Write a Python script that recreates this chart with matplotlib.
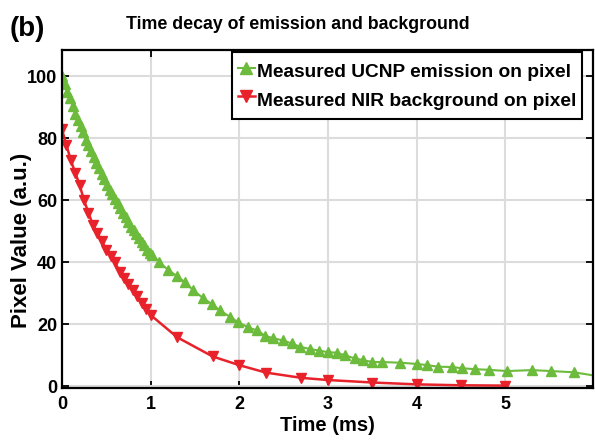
import matplotlib
matplotlib.use("Agg")
import matplotlib.pyplot as plt

# time (ms) and pixel value (a.u.)
ucnp_t = [0.00, 0.03, 0.06, 0.09, 0.12, 0.15, 0.18, 0.21, 0.24, 0.27,
          0.30, 0.33, 0.36, 0.39, 0.42, 0.45, 0.48, 0.51, 0.54, 0.57,
          0.60, 0.63, 0.66, 0.69, 0.72, 0.75, 0.78, 0.81, 0.84, 0.87,
          0.90, 0.93, 0.96, 0.99, 1.02, 1.10, 1.20, 1.30, 1.39, 1.48,
          1.59, 1.69, 1.78, 1.90, 1.99, 2.10, 2.20, 2.29, 2.38, 2.49,
          2.59, 2.69, 2.80, 2.90, 3.00, 3.10, 3.19, 3.30, 3.40, 3.50,
          3.61, 3.81, 4.00, 4.12, 4.24, 4.40, 4.51, 4.66, 4.81, 5.02,
          5.30, 5.51, 5.77, 6.10]
ucnp_val = [100.0, 97.5, 95.0, 93.0, 90.5, 88.0, 86.0, 84.0, 82.0, 79.5,
            78.0, 76.0, 74.0, 72.0, 70.5, 68.5, 67.0, 65.0, 63.5, 62.0,
            60.5, 59.0, 57.5, 56.0, 54.5, 53.0, 51.5, 50.5, 49.0, 48.0,
            46.5, 45.5, 44.0, 43.0, 42.5, 40.0, 37.5, 35.5, 33.5, 31.0,
            28.5, 26.5, 24.5, 22.3, 20.6, 19.0, 18.0, 16.3, 15.5, 14.8,
            13.8, 12.7, 12.0, 11.5, 11.0, 10.8, 10.0, 9.0, 8.4, 7.8,
            7.8, 7.6, 7.2, 6.8, 6.3, 6.2, 5.8, 5.5, 5.3, 4.9,
            5.2, 4.9, 4.5, 3.0]

nir_t = [0.00, 0.05, 0.10, 0.15, 0.20, 0.25, 0.30, 0.35, 0.40, 0.45,
         0.50, 0.55, 0.60, 0.65, 0.70, 0.75, 0.80, 0.85, 0.90, 0.95,
         1.00, 1.30, 1.70, 2.00, 2.30, 2.70, 3.00, 3.50, 4.00, 4.50, 5.00]
nir_val = [83.0, 78.0, 73.0, 69.0, 65.0, 60.0, 56.0, 52.0, 49.5, 47.0,
           44.0, 42.0, 40.0, 37.0, 35.0, 33.0, 31.0, 29.0, 27.0, 25.0,
           23.0, 15.8, 9.6, 6.8, 4.4, 2.7, 2.0, 1.2, 0.6, 0.3, 0.2]

x_ticks = [0, 1, 2, 3, 4, 5]
y_ticks = [0, 20, 40, 60, 80, 100]

plt.rcParams["font.family"] = ["Liberation Sans", "DejaVu Sans"]
plt.rcParams["font.weight"] = "bold"

fig = plt.figure(figsize=(5.95, 4.4), dpi=100)
ax = fig.add_axes([0.104, 0.118, 0.893, 0.768])

green = "#6cbb3c"
red = "#e8222a"
ax.plot(ucnp_t, ucnp_val, color=green, lw=1.5, marker="^", ms=7,
        mec=green, label="Measured UCNP emission on pixel")
ax.plot(nir_t, nir_val, color=red, lw=1.8, marker="v", ms=7,
        mec=red, label="Measured NIR background on pixel")

ax.set_xlim(0, 5.99)
ax.set_ylim(-0.6, 108.5)
ax.set_xticks(x_ticks)
ax.set_yticks(y_ticks)
ax.grid(True, color="#dcdcdc", lw=1.5)
ax.set_axisbelow(True)
ax.tick_params(direction="in", top=True, right=True, length=5, width=1.3,
               labelsize=13)
ax.tick_params(axis="y", pad=3.5)
ax.tick_params(axis="x", pad=6)
for s in ax.spines.values():
    s.set_linewidth(1.6)

ax.set_xlabel("Time (ms)", fontsize=14.5, fontweight="bold", labelpad=2)
ax.set_ylabel("Pixel Value (a.u.)", fontsize=16, fontweight="bold")
ax.yaxis.set_label_coords(-0.057, 0.438)
fig.text(0.5, 0.934, "Time decay of emission and background", fontsize=12.8,
         fontweight="bold", ha="center", va="baseline")
fig.text(0.017, 0.918, "(b)", fontsize=20, fontweight="bold", va="baseline")

leg = ax.legend(loc="upper right", bbox_to_anchor=(0.979, 0.994),
                fontsize=13.8, handlelength=0.9, handletextpad=0.1,
                handleheight=1.75, borderaxespad=0.0, fancybox=False,
                framealpha=1, edgecolor="black", borderpad=0.3,
                labelspacing=0.1, markerscale=1.15)
leg.get_frame().set_linewidth(1.5)

fig.savefig("out.png", dpi=100)
